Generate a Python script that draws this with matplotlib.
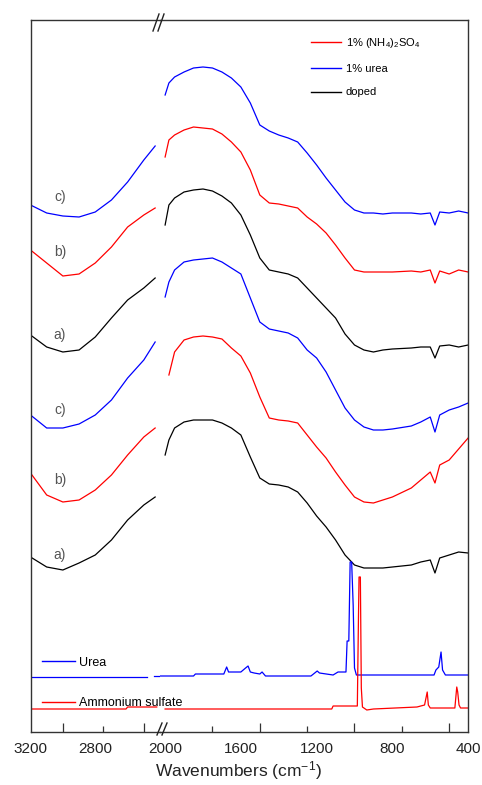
"""Raman spectra of doped samples with urea / ammonium sulfate references,
drawn on a broken wavenumber axis (3200-2400 | 2000-400 cm-1)."""

import matplotlib
matplotlib.use("Agg")
import matplotlib.pyplot as plt
from matplotlib.lines import Line2D

plt.rcParams["font.family"] = ["Liberation Sans", "DejaVu Sans"]
plt.rcParams["mathtext.fontset"] = "custom"
plt.rcParams["mathtext.rm"] = "Liberation Sans"
plt.rcParams["mathtext.it"] = "Liberation Sans:italic"

# ── Data (arbitrary intensity, curves already offset) ─────────────────

WN_LEFT = [3200, 3100, 3000, 2900, 2800, 2700, 2600, 2500, 2430]
WN_RIGHT = [2000, 1980, 1950, 1900, 1850, 1800, 1750, 1700, 1650, 1600,
            1550, 1500, 1450, 1400, 1350, 1300, 1250, 1200, 1150, 1100,
            1050, 1000, 950, 900, 850, 800, 700, 650, 600, 575, 550, 500,
            450, 400]

# lower set: a) doped, b) 1% (NH4)2SO4, c) 1% urea
LO_A_LEFT = [175, 165, 162, 169, 177, 192, 212, 227, 235]
LO_A_RIGHT = [277, 292, 304, 310, 312, 312, 312, 309, 304, 297,
              275, 254, 248, 247, 245, 240, 229, 216, 205, 192,
              177, 167, 164, 164, 164, 165, 167, 170, 172, 159, 174, 177,
              180, 179]
LO_B_LEFT = [259, 237, 230, 232, 242, 257, 277, 295, 304]
LO_B_RIGHT = [float("nan"), 357, 380, 392, 395, 396, 395, 393, 384, 376,
              359, 335, 314, 312, 311, 309, 297, 285, 274, 260,
              247, 235, 230, 229, 232, 235, 244, 252, 260, 249, 267, 272,
              283, 294]
LO_C_LEFT = [317, 304, 304, 308, 317, 332, 354, 372, 390]
LO_C_RIGHT = [435, 450, 462, 470, 472, 473, 474, 470, 464, 458,
              434, 410, 403, 401, 399, 394, 382, 374, 360, 342,
              324, 312, 305, 302, 302, 303, 306, 310, 315, 300, 317, 322,
              325, 329]

# upper set
UP_A_LEFT = [397, 385, 380, 382, 395, 414, 432, 444, 454]
UP_A_RIGHT = [507, 527, 534, 540, 542, 543, 541, 536, 529, 517,
              497, 474, 462, 460, 458, 454, 444, 434, 424, 414,
              398, 387, 382, 380, 382, 383, 384, 385, 385, 374, 386, 387,
              385, 387]
UP_B_LEFT = [482, 469, 456, 458, 469, 485, 505, 517, 524]
UP_B_RIGHT = [575, 592, 597, 602, 605, 604, 603, 598, 590, 580,
              562, 537, 529, 528, 526, 524, 515, 508, 499, 487,
              474, 462, 460, 460, 460, 460, 461, 460, 462, 449, 461, 458,
              462, 460]
UP_C_LEFT = [527, 519, 516, 515, 520, 532, 550, 572, 586]
UP_C_RIGHT = [637, 649, 655, 660, 664, 665, 664, 660, 654, 645,
              629, 607, 601, 597, 594, 590, 579, 567, 554, 542,
              530, 522, 519, 519, 518, 519, 519, 518, 519, 507, 520, 519,
              521, 519]

# reference spectra
UREA_WN_LEFT = [3200, 2480]
UREA_LEFT = [55, 55]
UREA_WN_LEFT2 = [2440, 2400]
UREA_LEFT2 = [56, 56]
UREA_WN_RIGHT = [2027, 1850, 1840, 1720, 1690, 1675, 1665, 1600, 1575, 1562,
                 1550, 1530, 1500, 1488, 1470, 1230, 1210, 1197, 1185, 1113,
                 1087, 1045, 1039, 1030, 1023, 1015, 1007, 1000, 990, 580,
                 570, 555, 543, 535, 520, 400]
UREA_RIGHT = [56, 56, 58, 58, 58, 65, 60, 60, 64, 66,
              60, 59, 58, 60, 56, 56, 59, 61, 59, 57,
              60, 60, 91, 91, 170, 170, 127, 64, 57, 57,
              62, 65, 80, 62, 57, 57]

AS_WN_LEFT = [3200, 2610, 2600, 2420]
AS_LEFT = [23, 23, 25, 25]
AS_WN_RIGHT = [2000, 1120, 1113, 985, 979, 976, 969, 964, 958, 935,
               900, 670, 630, 616, 610, 600, 470, 460, 455, 448, 440, 400]
AS_RIGHT = [23, 23, 26, 26, 115, 155, 155, 44, 25, 22,
            23, 25, 27, 40, 27, 24, 24, 45, 40, 27, 24, 24]

# sample labels (left panel)
SAMPLE_LABELS = ["a)", "b)", "c)", "a)", "b)", "c)"]
SAMPLE_LABEL_Y = [177, 252, 322, 397, 480, 535]

RED, BLUE, BLACK = "#ff0000", "#0000ff", "#000000"

# ── Figure layout (pixel based, 482 x 785) ────────────────────────────

W, H = 482, 785
fig = plt.figure(figsize=(W / 100, H / 100), dpi=100)
bottom, height = 1 - 732 / H, 712 / H
ax_l = fig.add_axes([30.5 / W, bottom, (160 - 30.5) / W, height])
ax_r = fig.add_axes([160 / W, bottom, (468.5 - 160) / W, height])
ax_r.patch.set_visible(False)

ax_l.set_xlim(3200, 2400)
ax_r.set_xlim(2027, 398)
for ax in (ax_l, ax_r):
    ax.set_ylim(0, 712)
    ax.set_yticks([])
    for sp in ax.spines.values():
        sp.set_linewidth(1.0)
        sp.set_color("#333333")
ax_l.spines["right"].set_visible(False)
ax_r.spines["left"].set_visible(False)

# ── Spectra ───────────────────────────────────────────────────────────

lw = 0.9
broad = [
    (LO_A_LEFT, LO_A_RIGHT, BLACK),
    (LO_B_LEFT, LO_B_RIGHT, RED),
    (LO_C_LEFT, LO_C_RIGHT, BLUE),
    (UP_A_LEFT, UP_A_RIGHT, BLACK),
    (UP_B_LEFT, UP_B_RIGHT, RED),
    (UP_C_LEFT, UP_C_RIGHT, BLUE),
]
for left, right, col in broad:
    ax_l.plot(WN_LEFT, left, color=col, lw=lw)
    ax_r.plot(WN_RIGHT, right, color=col, lw=lw)

ax_l.plot(UREA_WN_LEFT, UREA_LEFT, color=BLUE, lw=lw)
ax_l.plot(UREA_WN_LEFT2, UREA_LEFT2, color=BLUE, lw=lw)
ax_r.plot(UREA_WN_RIGHT, UREA_RIGHT, color=BLUE, lw=lw)
ax_l.plot(AS_WN_LEFT, AS_LEFT, color=RED, lw=lw)
ax_r.plot(AS_WN_RIGHT, AS_RIGHT, color=RED, lw=lw)

for lab, y in zip(SAMPLE_LABELS, SAMPLE_LABEL_Y):
    ax_l.text(3018, y, lab, ha="center", va="center", fontsize=10,
              color="#555555")

# ── Ticks: marks every 250, labels every 400 ──────────────────────────

ax_l.set_xticks([3000, 2500])
ax_l.set_xticks([2750], minor=True)
ax_r.set_xticks([1500, 1000, 500])
ax_r.set_xticks([1750, 1250, 750], minor=True)
for ax in (ax_l, ax_r):
    ax.tick_params(axis="x", which="both", direction="in", top=False,
                   labelbottom=False, width=0.9, color="#333333")
    ax.tick_params(axis="x", which="major", length=6.5)
    ax.tick_params(axis="x", which="minor", length=4)

for ax, labs in ((ax_l, [3200, 2800]), (ax_r, [2000, 1600, 1200, 800, 400])):
    sec = ax.secondary_xaxis("bottom")
    sec.set_xticks(labs)
    sec.tick_params(length=0, pad=7, labelsize=11, labelcolor="#222222")
    sec.spines["bottom"].set_visible(False)

fig.text(238 / W, 1 - 771 / H, "Wavenumbers (cm$^{-1}$)", ha="center",
         va="center", fontsize=12.5, color="#222222")

# break marks
for x0, y0, x1, y1 in ((153, 31, 159, 14), (158, 31, 164, 14),
                       (157, 735, 162, 723), (162, 735, 167, 723)):
    fig.add_artist(Line2D([x0 / W, x1 / W], [1 - y0 / H, 1 - y1 / H],
                          transform=fig.transFigure, color="#222222", lw=1.0))

# ── Legends ───────────────────────────────────────────────────────────

top_handles = [
    Line2D([], [], color=RED, lw=1, label="1% (NH$_4$)$_2$SO$_4$"),
    Line2D([], [], color=BLUE, lw=1, label="1% urea"),
    Line2D([], [], color=BLACK, lw=1, label="doped"),
]
ax_r.legend(handles=top_handles, loc="upper left", bbox_to_anchor=(0.49, 0.978),
            frameon=False, fontsize=8, handlelength=2.7, handletextpad=0.4,
            labelspacing=1.25, borderaxespad=0, borderpad=0)

ref_handles = [
    Line2D([], [], color=BLUE, lw=1, label="Urea"),
    Line2D([], [], color=RED, lw=1, label="Ammonium sulfate"),
]
ax_l.legend(handles=ref_handles, loc="upper left", bbox_to_anchor=(0.089, 0.106),
            frameon=False, fontsize=9, handlelength=2.6, handletextpad=0.35,
            labelspacing=2.3, borderaxespad=0, borderpad=0)

fig.savefig("out.png", dpi=100)
